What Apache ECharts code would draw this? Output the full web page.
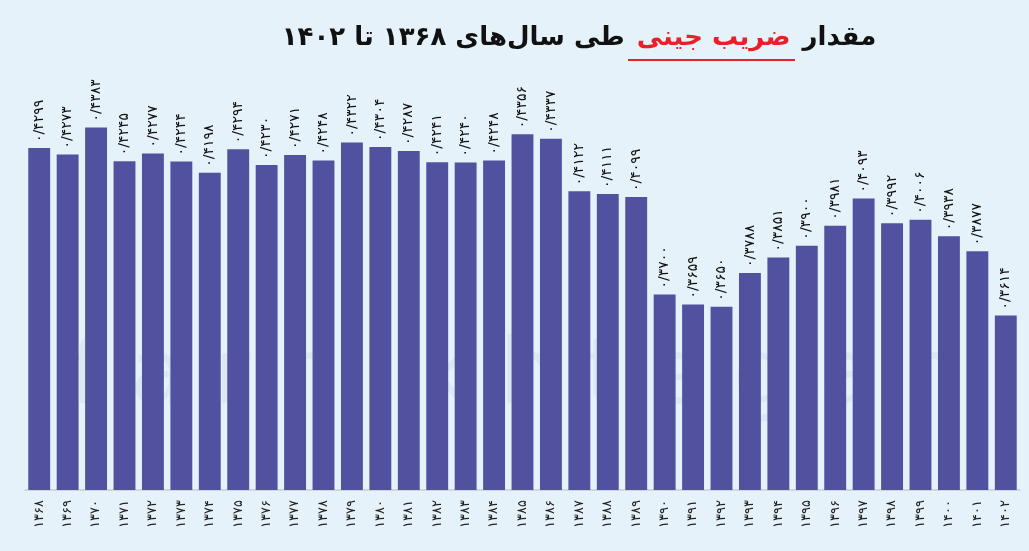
<!DOCTYPE html>
<html>
<head>
<meta charset="utf-8">
<script src="https://cdn.jsdelivr.net/npm/echarts@6/dist/echarts.min.js"></script>
<style>
  html, body { margin: 0; padding: 0; background: #e5f2f9; }
  #chart { width: 1029px; height: 551px; }
</style>
</head>
<body>
<div id="chart"></div>
<script>
// سال‌ها و ضریب جینی
var years = [1368, 1369, 1370, 1371, 1372, 1373, 1374, 1375, 1376, 1377, 1378, 1379,
  1380, 1381, 1382, 1383, 1384, 1385, 1386, 1387, 1388, 1389, 1390, 1391,
  1392, 1393, 1394, 1395, 1396, 1397, 1398, 1399, 1400, 1401, 1402];
var gini = [0.4299, 0.4273, 0.4383, 0.4245, 0.4277, 0.4244, 0.4198, 0.4294, 0.4230, 0.4271, 0.4248, 0.4322,
  0.4304, 0.4287, 0.4241, 0.4240, 0.4248, 0.4356, 0.4337, 0.4122, 0.4111, 0.4099, 0.3700, 0.3659,
  0.3650, 0.3788, 0.3851, 0.3900, 0.3981, 0.4093, 0.3992, 0.4006, 0.3938, 0.3877, 0.3614];

function fa(s) {
  return String(s).replace(/[0-9]/g, function (d) { return '۰۱۲۳۴۵۶۷۸۹'[+d]; });
}

var myChart = echarts.init(document.getElementById('chart'));
var option = {
  backgroundColor: '#e5f2f9',
  textStyle: { fontFamily: 'DejaVu Sans' },
  graphic: [
    {
      type: 'text',
      z: -10,
      left: 'center',
      top: 335,
      style: {
        text: 'f a r h i k h t e g a n',
        font: '90px "DejaVu Sans"',
        fill: 'rgba(0,0,0,0.04)'
      }
    },
    {
      type: 'text',
      x: 579,
      y: 38,
      style: {
        text: '{a|طی سال‌های ۱۳۶۸ تا ۱۴۰۲}{r|ضریب جینی}{a|مقدار}',
        align: 'center',
        verticalAlign: 'middle',
        rich: {
          a: { fontSize: 26, fontWeight: 'bold', fontFamily: 'DejaVu Sans', fill: '#111', padding: [0, 6] },
          r: { fontSize: 26, fontWeight: 'bold', fontFamily: 'DejaVu Sans', fill: '#e8202a', padding: [0, 6] }
        }
      }
    },
    {
      type: 'line',
      shape: { x1: 628, y1: 60, x2: 795, y2: 60 },
      style: { stroke: '#e8202a', lineWidth: 2 }
    }
  ],
  grid: { left: 25, right: 9, top: 99, bottom: 61 },
  xAxis: {
    type: 'category',
    data: years,
    axisLine: { lineStyle: { color: '#c9cdd2', width: 1.5 } },
    axisTick: { show: false },
    axisLabel: {
      rotate: 90,
      margin: 10,
      fontSize: 13,
      color: '#222',
      formatter: function (v) { return fa(v); }
    }
  },
  yAxis: {
    type: 'value',
    min: 0.29,
    max: 0.45,
    show: false,
    splitLine: { show: false }
  },
  series: [
    {
      type: 'bar',
      data: gini,
      barCategoryGap: '23%',
      itemStyle: { color: '#5151a0' },
      label: {
        show: true,
        position: 'top',
        rotate: 90,
        align: 'left',
        verticalAlign: 'middle',
        distance: 6,
        fontSize: 14,
        color: '#111',
        formatter: function (p) { return fa(p.value.toFixed(4)).replace('.', '/'); }
      }
    }
  ]
};
myChart.setOption(option);
window.addEventListener('resize', function () {
  myChart.resize();
});
</script>
</body>
</html>
